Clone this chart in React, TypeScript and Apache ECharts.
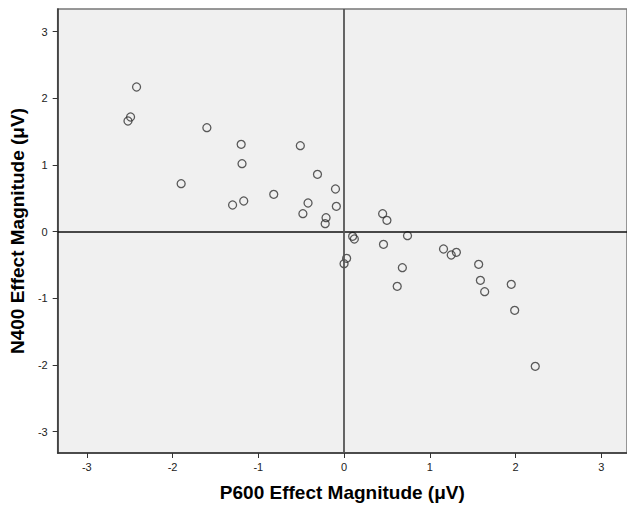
import React, { useEffect, useRef } from "react";
import * as echarts from "echarts";

const p600: number[] = [
  -2.42, -2.49, -2.52, -1.6, -1.2, -1.19, -1.9, -1.3, -1.17,
  -0.51, -0.31, -0.82, -0.1, -0.42, -0.09, -0.48, -0.21, -0.22, 0.1, 0.12, 0.03, 0.0,
  0.45, 0.5, 0.74, 0.46, 1.16, 1.25, 1.31, 0.68, 0.62, 1.57, 1.59, 1.64, 1.95, 1.99, 2.23,
];
const n400: number[] = [
  2.17, 1.72, 1.66, 1.56, 1.31, 1.02, 0.72, 0.4, 0.46,
  1.29, 0.86, 0.56, 0.64, 0.43, 0.38, 0.27, 0.21, 0.12, -0.07, -0.11, -0.4, -0.48,
  0.27, 0.17, -0.06, -0.19, -0.26, -0.35, -0.31, -0.54, -0.82, -0.49, -0.73, -0.9, -0.79, -1.18, -2.02,
];
const tickValues: number[] = [-3, -2, -1, 0, 1, 2, 3];
const xTitle = "P600 Effect Magnitude (μV)";
const yTitle = "N400 Effect Magnitude (μV)";

export default function App() {
  const ref = useRef<HTMLDivElement>(null);
  useEffect(() => {
    if (!ref.current) return;
    const chart = echarts.init(ref.current, undefined, { renderer: "svg" });
    const font = "Liberation Sans, Arial, sans-serif";
    const axisCommon = {
      type: "value" as const,
      splitLine: { show: false },
      axisLine: { show: true, onZero: false, lineStyle: { color: "#333", width: 1.5 } },
      axisTick: { show: true, length: 5, customValues: tickValues, lineStyle: { color: "#333" } },
      axisLabel: { customValues: tickValues, color: "#222", fontSize: 11, fontFamily: font },
      nameLocation: "middle" as const,
      nameTextStyle: { fontSize: 19, fontWeight: "bold" as const, color: "#000", fontFamily: font },
    };
    chart.setOption({
      animation: false,
      grid: {
        left: 56,
        top: 9,
        width: 571,
        height: 445,
        show: true,
        backgroundColor: "#f0f0f0",
        borderColor: "#777",
        borderWidth: 1.5,
      },
      xAxis: {
        ...axisCommon,
        min: -3.34,
        max: 3.3,
        name: xTitle,
        nameGap: 30,
        axisLabel: { ...axisCommon.axisLabel, margin: 8 },
      },
      yAxis: {
        ...axisCommon,
        min: -3.32,
        max: 3.34,
        name: yTitle,
        nameGap: 27,
        axisLabel: { ...axisCommon.axisLabel, margin: 10 },
      },
      series: [
        {
          type: "scatter",
          data: p600.map((x, i) => [x, n400[i]]),
          symbol: "circle",
          symbolSize: 8,
          itemStyle: { color: "rgba(0,0,0,0)", borderColor: "#333", borderWidth: 1.3 },
          emphasis: { disabled: true },
          markLine: {
            silent: true,
            symbol: "none",
            label: { show: false },
            data: [
              { yAxis: 0, lineStyle: { color: "#111", width: 1.5, type: "solid" } },
              { xAxis: 0, lineStyle: { color: "#555", width: 1.8, type: "solid" } },
            ],
          },
        },
      ],
    });
    return () => chart.dispose();
  }, []);
  return (
    <div
      ref={ref}
      style={{ position: "fixed", left: 0, top: 0, width: 627, height: 507, background: "#fff" }}
    />
  );
}
